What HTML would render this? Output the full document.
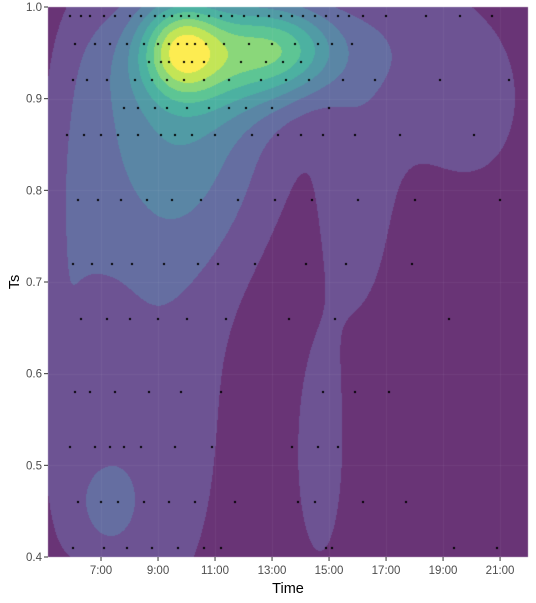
<!DOCTYPE html>
<html><head><meta charset="utf-8"><style>
html,body{margin:0;padding:0;background:#fff;}
#wrap{position:relative;width:536px;height:603px;font-family:"Liberation Sans",sans-serif;}
canvas{position:absolute;left:0;top:0;}
svg{position:absolute;left:0;top:0;}
</style></head><body>
<div id="wrap">
<canvas id="cv" width="536" height="603"></canvas>
<svg id="sv" width="536" height="603"></svg>
</div>
<script>
// density mixture components: [time(h), Ts, sdTime, sdTs, weight]
const compTime = [9.8, 11.5, 9.8, 13.6, 8.8, 7.2, 14.7, 16.0, 20.0, 6.3, 5.5, 17.3];
const compTs   = [0.955,0.95,0.87,0.955,0.55,0.455,0.51,0.78,0.9,0.8,0.6,0.97];
const compSdT  = [0.95, 2.2, 2.5, 1.4, 2.2, 0.75, 0.7,1.0, 2.0, 0.9, 0.6, 1.5];
const compSdY  = [0.035,0.045,0.11,0.035,0.2,0.035,0.1,0.11,0.1,0.2,0.15,0.08];
const compW    = [0.38,0.36,0.3,0.3, 0.15,0.12, 0.15,0.13,0.12,0.07,0.08,0.1];
const xTicks = [7,9,11,13,15,17,19,21];
const xTickLabels = ["7:00","9:00","11:00","13:00","15:00","17:00","19:00","21:00"];
const yTicks = [0.4,0.5,0.6,0.7,0.8,0.9,1.0];
const yTickLabels = ["0.4","0.5","0.6","0.7","0.8","0.9","1.0"];
const ptTime = [5.9,6.3,6.6,7.1,7.5,8.0,8.4,8.9,9.2,9.5,9.8,10.1,10.4,10.8,11.2,11.6,12.0,12.5,12.9,13.3,13.7,14.1,14.5,14.9,15.3,15.7,16.2,17.0,18.4,19.6,20.7,
 6.1,6.8,7.3,7.9,8.5,9.0,9.4,9.7,10.0,10.3,10.7,11.3,12.2,13.0,13.8,14.6,15.1,15.8,
 6.0,6.5,7.2,8.2,8.8,9.3,9.9,10.6,11.5,12.6,13.5,14.3,15.5,16.6,18.9,21.3,
 5.8,6.4,7.0,7.6,8.3,9.1,9.6,10.2,11.0,12.3,13.2,14.0,14.8,15.9,17.5,20.1,
 6.2,6.9,7.7,8.6,9.5,10.5,11.8,13.1,14.4,16.0,18.0,21.0,
 6.0,6.7,7.4,8.1,9.2,10.4,11.1,12.4,14.2,15.6,17.9,
 6.3,7.2,8.0,9.0,10.0,11.4,13.6,15.2,19.2,
 6.1,6.6,7.5,8.7,9.8,11.2,14.8,15.9,17.1,
 5.9,6.8,7.3,7.8,8.4,9.6,10.9,13.7,14.6,15.3,
 6.2,7.0,7.6,8.5,9.4,10.3,11.7,13.9,14.5,16.2,17.7,
 6.0,7.1,7.9,8.8,9.7,10.6,11.2,14.9,15.1,19.4,20.9,
 8.7,9.1,9.4,9.9,10.2,10.6,11.9,12.8,13.4,14.0,
 7.8,8.3,8.9,9.3,10.0,10.8,11.5,12.1,13.0,15.0];
const ptTs = [0.99,0.99,0.99,0.99,0.99,0.99,0.99,0.99,0.99,0.99,0.99,0.99,0.99,0.99,0.99,0.99,0.99,0.99,0.99,0.99,0.99,0.99,0.99,0.99,0.99,0.99,0.99,0.99,0.99,0.99,0.99,
 0.96,0.96,0.96,0.96,0.96,0.96,0.96,0.96,0.96,0.96,0.96,0.96,0.96,0.96,0.96,0.96,0.96,0.96,
 0.92,0.92,0.92,0.92,0.92,0.92,0.92,0.92,0.92,0.92,0.92,0.92,0.92,0.92,0.92,0.92,
 0.86,0.86,0.86,0.86,0.86,0.86,0.86,0.86,0.86,0.86,0.86,0.86,0.86,0.86,0.86,0.86,
 0.79,0.79,0.79,0.79,0.79,0.79,0.79,0.79,0.79,0.79,0.79,0.79,
 0.72,0.72,0.72,0.72,0.72,0.72,0.72,0.72,0.72,0.72,0.72,
 0.66,0.66,0.66,0.66,0.66,0.66,0.66,0.66,0.66,
 0.58,0.58,0.58,0.58,0.58,0.58,0.58,0.58,0.58,
 0.52,0.52,0.52,0.52,0.52,0.52,0.52,0.52,0.52,0.52,
 0.46,0.46,0.46,0.46,0.46,0.46,0.46,0.46,0.46,0.46,0.46,
 0.41,0.41,0.41,0.41,0.41,0.41,0.41,0.41,0.41,0.41,0.41,
 0.94,0.94,0.94,0.94,0.94,0.94,0.94,0.94,0.94,0.94,
 0.89,0.89,0.89,0.89,0.89,0.89,0.89,0.89,0.89,0.89];

const L=48,R=528,T=7,B=557;
const tMin=5.14,tMax=21.98,yMin=0.4,yMax=1.0;
const xs=t=>L+(t-tMin)/(tMax-tMin)*(R-L);
const ys=v=>B-(v-yMin)/(yMax-yMin)*(B-T);
const pal=[[0x44,0x01,0x54],[0x48,0x28,0x78],[0x3E,0x4A,0x89],[0x31,0x68,0x8E],[0x26,0x82,0x8E],[0x1F,0x9E,0x89],[0x35,0xB7,0x79],[0x6D,0xCD,0x59],[0xB4,0xDE,0x2C],[0xFD,0xE7,0x25]];
const a=0.8;
const ctx=document.getElementById('cv').getContext('2d');
const W=R-L,H=B-T;
const dens=new Float32Array(W*H);let mx=0;
for(let j=0;j<H;j++){const v=yMax-(j+0.5)/H*(yMax-yMin);
 for(let i=0;i<W;i++){const t=tMin+(i+0.5)/W*(tMax-tMin);let d=0;
  for(let k=0;k<compW.length;k++){const dx=(t-compTime[k])/compSdT[k],dy=(v-compTs[k])/compSdY[k];d+=compW[k]*Math.exp(-0.5*(dx*dx+dy*dy));}
  dens[j*W+i]=d;if(d>mx)mx=d;}}
const img=ctx.createImageData(W,H);
for(let p=0;p<W*H;p++){let b=Math.min(9,Math.floor(dens[p]/mx*10));const c=pal[b];
 img.data[p*4]=c[0]*a+255*(1-a);img.data[p*4+1]=c[1]*a+255*(1-a);img.data[p*4+2]=c[2]*a+255*(1-a);img.data[p*4+3]=255;}
ctx.putImageData(img,L,T);
ctx.strokeStyle='rgba(255,255,255,0.05)';ctx.lineWidth=1;
xTicks.forEach(t=>{ctx.beginPath();ctx.moveTo(Math.round(xs(t))+0.5,T);ctx.lineTo(Math.round(xs(t))+0.5,B);ctx.stroke();});
yTicks.forEach(v=>{ctx.beginPath();ctx.moveTo(L,Math.round(ys(v))+0.5);ctx.lineTo(R,Math.round(ys(v))+0.5);ctx.stroke();});
ctx.fillStyle='#000';
for(let k=0;k<ptTime.length;k++){ctx.fillRect(Math.round(xs(ptTime[k]))-1,Math.round(ys(ptTs[k]))-1,2,2);}
const sv=document.getElementById('sv');const NS='http://www.w3.org/2000/svg';
function mk(tag,at){const e=document.createElementNS(NS,tag);for(const k in at)e.setAttribute(k,at[k]);sv.appendChild(e);return e;}
xTicks.forEach((t,i)=>{const x=xs(t);
 const tk=mk('line',{x1:x,x2:x,y1:B,y2:B+4,stroke:'#333','stroke-width':1});
 
 
 const tx=mk('text',{x:x,y:B+17,'text-anchor':'middle','font-size':'11.5','fill':'#4d4d4d'});tx.textContent=xTickLabels[i];
 
 });
yTicks.forEach((v,i)=>{const y=ys(v);
 const tk=mk('line',{x1:L-4,x2:L,y1:y,y2:y,stroke:'#333','stroke-width':1});
 
 
 const tx=mk('text',{x:L-6,y:y+4,'text-anchor':'end','font-size':'11.5','fill':'#4d4d4d'});tx.textContent=yTickLabels[i];
 
 });
const xt=mk('text',{x:(L+R)/2,y:593,'text-anchor':'middle','font-size':'14.5','fill':'#000'});xt.textContent='Time';


const yt=mk('text',{x:19,y:(T+B)/2,'text-anchor':'middle','font-size':'14.5','fill':'#000',transform:'rotate(-90 19 '+((T+B)/2)+')'});yt.textContent='Ts';


</script>
</body></html>
